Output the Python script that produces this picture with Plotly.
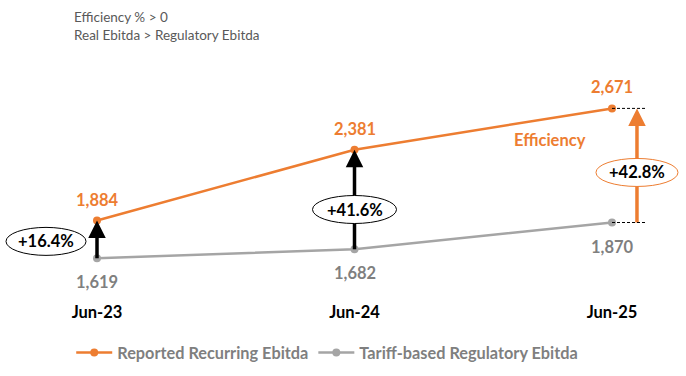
import plotly.graph_objects as go

periods = ["Jun-23", "Jun-24", "Jun-25"]
reported = [1884, 2381, 2671]
regulatory = [1619, 1682, 1870]
efficiency_labels = ["+16.4%", "+41.6%", "+42.8%"]
series_names = ["Reported Recurring Ebitda", "Tariff-based Regulatory Ebitda"]
header_lines = ["Efficiency % > 0", "Real Ebitda > Regulatory Ebitda"]

ORANGE = "#ED7D31"
GREY_LINE = "#A5A5A5"
GREY_TEXT = "#7F7F7F"
FONT = "Lato"

xs = list(range(len(periods)))
Y_RANGE = [1326, 3081]
PLOT_H = 250
px_per_unit = PLOT_H / (Y_RANGE[1] - Y_RANGE[0])

fig = go.Figure()
fig.add_trace(go.Scatter(x=xs, y=reported, mode="lines+markers", name=f"<b>{series_names[0]}</b>",
                         line=dict(color=ORANGE, width=2.5), marker=dict(size=8, color=ORANGE)))
fig.add_trace(go.Scatter(x=xs, y=regulatory, mode="lines+markers", name=f"<b>{series_names[1]}</b>",
                         line=dict(color=GREY_LINE, width=2.5), marker=dict(size=8, color=GREY_LINE)))

ann = []
shapes = []
# data labels
for i in xs:
    ann.append(dict(x=i, y=reported[i], xref="x", yref="y", text=f"<b>{reported[i]:,}</b>",
                    showarrow=False, yshift=21, font=dict(family=FONT, size=16.5, color=ORANGE)))
    ann.append(dict(x=i, y=regulatory[i], xref="x", yref="y", text=f"<b>{regulatory[i]:,}</b>",
                    showarrow=False, yshift=-24, font=dict(family=FONT, size=16.5, color=GREY_TEXT)))

# arrows: shaft as shape, head as short annotation arrow
arrow_dx = [0, 0, 0.097]
arrow_col = ["black", "black", ORANGE]
for i in xs:
    xa = i + arrow_dx[i]
    shapes.append(dict(type="line", xref="x", yref="y", x0=xa, x1=xa, y0=regulatory[i],
                       y1=reported[i] - 8 / px_per_unit, layer="above",
                       line=dict(color=arrow_col[i], width=3.5)))
    ann.append(dict(x=xa, y=reported[i], ax=0, ay=14, xref="x", yref="y", text="", showarrow=True,
                    arrowhead=2, arrowsize=1, arrowwidth=3.5, arrowcolor=arrow_col[i]))

# dashed guides at Jun-25
for v in (reported[2], regulatory[2]):
    shapes.append(dict(type="line", xref="x", yref="y", x0=2, x1=2.13, y0=v, y1=v, layer="above",
                       line=dict(color="black", width=1, dash="3px,2px")))

# ellipses with labels
ell_x = [-0.198, 1, 2.097]
ell_shift = [-2, -10, -7]
ell_w = [40, 42, 41]
ell_col = ["black", "black", ORANGE]
for i in xs:
    mid = (reported[i] + regulatory[i]) / 2
    shapes.append(dict(type="circle", xref="x", yref="y", xsizemode="pixel", ysizemode="pixel",
                       xanchor=ell_x[i], yanchor=mid, x0=-ell_w[i], x1=ell_w[i],
                       y0=ell_shift[i] - 14, y1=ell_shift[i] + 14,
                       line=dict(color=ell_col[i], width=1), fillcolor="white", layer="above"))
    ann.append(dict(x=ell_x[i], y=mid, xref="x", yref="y", text=f"<b>{efficiency_labels[i]}</b>",
                    showarrow=False, yshift=ell_shift[i], font=dict(family=FONT, size=16.5, color="black")))

ann.append(dict(x=1.76, y=2450, xref="x", yref="y", text="<b>Efficiency</b>", showarrow=False,
                font=dict(family=FONT, size=16.5, color=ORANGE)))

# header (pixel positions converted to paper coords)
for k, line in enumerate(header_lines):
    ann.append(dict(x=72 / 686, y=(300 - (17 + 18 * k)) / PLOT_H, xref="paper", yref="paper",
                    text=line, showarrow=False, xanchor="left", yanchor="middle",
                    font=dict(family=FONT, size=13.5, color="#595959")))

fig.update_layout(
    width=686, height=376,
    margin=dict(l=0, r=0, t=50, b=76),
    paper_bgcolor="white", plot_bgcolor="white",
    xaxis=dict(range=[-0.3767, 2.2874], tickvals=xs, ticktext=[f"<b>{p}</b>" for p in periods],
               showgrid=False, zeroline=False, showline=False, ticks="",
               tickfont=dict(family=FONT, size=16.5, color="black")),
    yaxis=dict(range=Y_RANGE, visible=False),
    showlegend=True,
    legend=dict(orientation="h", x=0.477, xanchor="center", y=-0.212, yanchor="middle",
                font=dict(family=FONT, size=16.3, color=GREY_TEXT), itemwidth=36),
    annotations=ann, shapes=shapes,
)
fig.write_html("out.html", config={"displayModeBar": False},
               post_script="document.body.style.margin='0';")
